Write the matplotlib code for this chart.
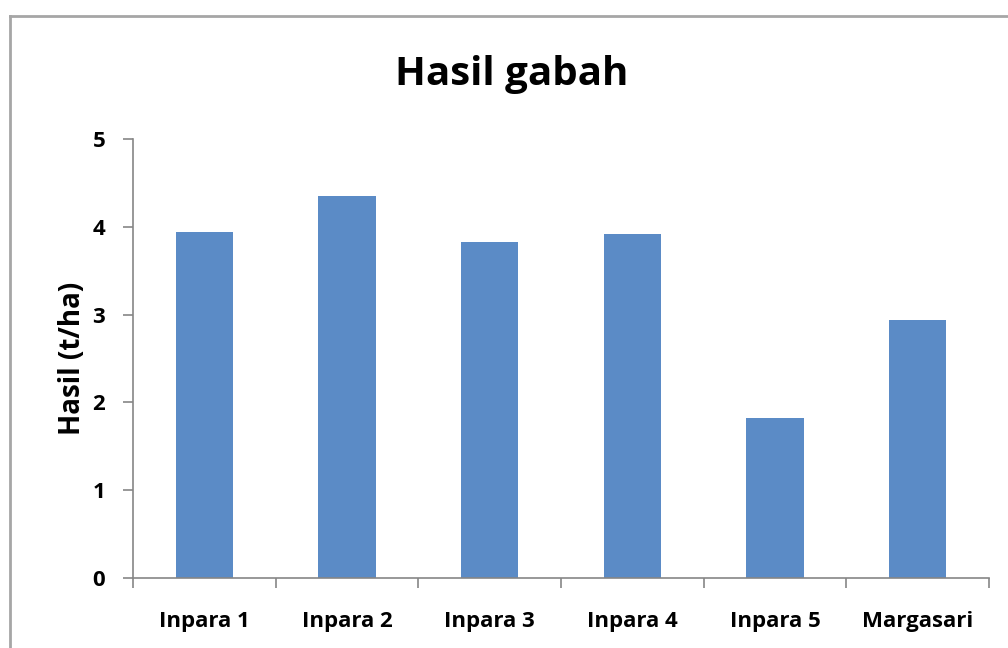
import matplotlib.pyplot as plt
from matplotlib.lines import Line2D

# Data
varieties = ["Inpara 1", "Inpara 2", "Inpara 3", "Inpara 4", "Inpara 5", "Margasari"]
yields = [3.94, 4.35, 3.83, 3.92, 1.82, 2.94]

plt.rcParams['font.family'] = ['Open Sans', 'DejaVu Sans']
plt.rcParams['font.weight'] = 'bold'

fig = plt.figure(figsize=(10.08, 6.48), dpi=100)
ax = fig.add_axes([0.1319, 0.108, 0.8493, 0.6775])

x = range(len(varieties))
ax.bar(x, yields, width=0.4, color="#5B8BC6")

axis_gray = "#868686"
ax.set_xlim(-0.5, len(varieties) - 0.5)
ax.set_ylim(0, 5)
ax.set_yticks(range(6))
ax.set_xticks(x)
ax.set_xticklabels(varieties)
ax.set_xticks([i - 0.5 for i in range(len(varieties) + 1)], minor=True)
ax.tick_params(axis='x', which='major', length=0, pad=24, labelsize=16)
ax.tick_params(axis='x', which='minor', length=7, width=1.2, color=axis_gray)
ax.tick_params(axis='y', length=7, width=1.2, color=axis_gray, pad=13, labelsize=16)

for side in ['top', 'right']:
    ax.spines[side].set_visible(False)
for side in ['left', 'bottom']:
    ax.spines[side].set_color(axis_gray)
    ax.spines[side].set_linewidth(1.2)

ax.set_ylabel("Hasil (t/ha)", fontsize=20, fontweight='bold', labelpad=4)
fig.text(0.508, 0.885, "Hasil gabah", fontsize=29, fontweight='bold',
         ha='center', va='center')

# chart frame (only top and left visible in the crop)
fig.add_artist(Line2D([9.5 / 1008, 9.5 / 1008], [0, 1 - 15.5 / 648],
                      transform=fig.transFigure, color="#A6A6A6", lw=2))
fig.add_artist(Line2D([9.5 / 1008, 1], [1 - 15.5 / 648, 1 - 15.5 / 648],
                      transform=fig.transFigure, color="#A6A6A6", lw=2))

plt.savefig("out.png", dpi=100)
